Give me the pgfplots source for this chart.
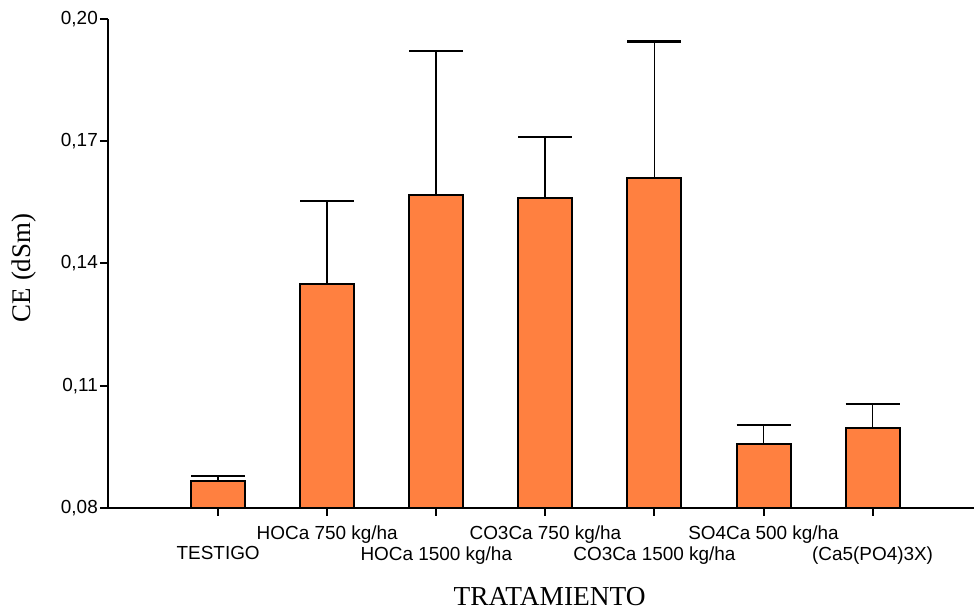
\documentclass[border=0pt]{standalone}
\usepackage{fontspec}
\setmainfont{Liberation Serif}
\setsansfont{Liberation Sans}
\usepackage{pgfplots}
\pgfplotsset{compat=1.18}
\definecolor{barorange}{RGB}{255,128,64}
\begin{document}
\begin{tikzpicture}
\useasboundingbox (0,0) rectangle (974bp,610bp);
\begin{axis}[
  at={(108bp,102bp)}, anchor=south west,
  scale only axis, width=866bp, height=489bp,
  xmin=-1.01, xmax=6.93, ymin=0.08, ymax=0.20,
  axis lines=left,
  axis line style={-, line width=2.2bp, black},
  tick align=outside,
  major tick length=8bp,
  tick style={line width=2bp, black},
  ytick={0.08,0.11,0.14,0.17,0.20},
  scaled y ticks=false,
  yticklabel style={font=\sffamily\fontsize{19}{22}\selectfont, inner sep=2bp,
    /pgf/number format/.cd, use comma, fixed, fixed zerofill, precision=2, assume math mode=true},
  xtick={1,3,5},
  xticklabels={HOCa 750 kg/ha, CO3Ca 750 kg/ha, SO4Ca 500 kg/ha},
  extra x ticks={0,2,4,6},
  extra x tick labels={TESTIGO, HOCa 1500 kg/ha, CO3Ca 1500 kg/ha, (Ca5(PO4)3X)},
  extra x tick style={xticklabel style={yshift=-21bp}},
  xticklabel style={font=\sffamily\fontsize{19}{22}\selectfont, yshift=-6bp},
  ylabel={CE (dSm)},
  ylabel style={at={(axis description cs:-0.097,0.491)}, anchor=center, font=\fontsize{27}{30}\selectfont},
  xlabel={TRATAMIENTO},
  xlabel style={at={(axis description cs:0.510,-0.1984)}, anchor=base, font=\fontsize{27.5}{30}\selectfont},
]
\addplot[ybar, bar width=54bp, fill=barorange, draw=black, line width=2bp,
  error bars/.cd, y dir=plus, y explicit,
  error bar style={line width=1.8bp, black},
  error mark options={rotate=90, mark size=27bp, line width=2.2bp, black}]
coordinates {
  (0,0.0867) +- (0,0.0012)
  (1,0.1350) +- (0,0.0204)
  (2,0.1567) +- (0,0.0355)
  (3,0.1561) +- (0,0.0150)
  (4,0.1611) +- (0,0.0334)
  (5,0.0956) +- (0,0.0047)
  (6,0.0997) +- (0,0.0059)
};
\end{axis}
\end{tikzpicture}
\end{document}
